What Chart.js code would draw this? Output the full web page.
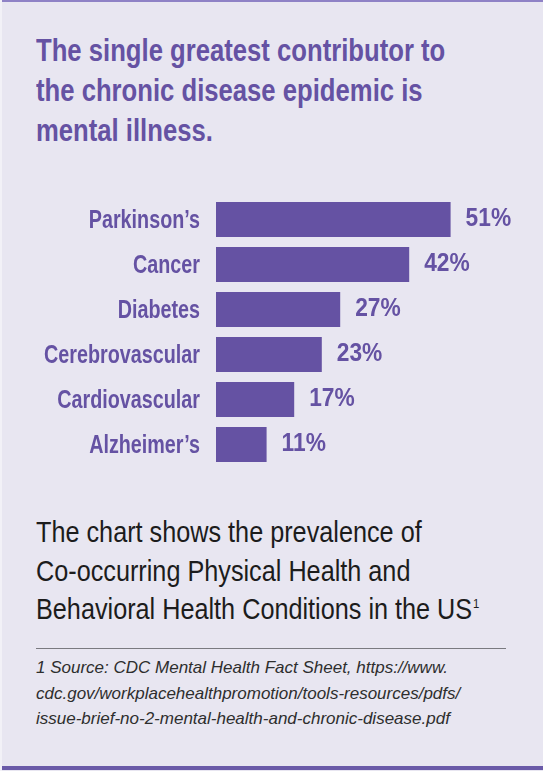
<!DOCTYPE html>
<html>
<head>
<meta charset="utf-8">
<script src="https://cdn.jsdelivr.net/npm/chart.js@4.4.1/dist/chart.umd.min.js"></script>
<style>
  html, body { margin: 0; padding: 0; }
  body { width: 543px; height: 771px; overflow: hidden; background: #e8e6f1; position: relative;
         font-family: "Liberation Sans", Arial, sans-serif; }
  .frame-top { position: absolute; left: 0; top: 0; width: 543px; height: 2px; background: #8f82c6; }
  .frame-left { position: absolute; left: 0; top: 0; width: 2px; height: 771px; background: #f2f1f7; }
  .frame-bottom { position: absolute; left: 2px; top: 766px; width: 541px; height: 4px; background: #6a5aa8; }
  .txt { position: absolute; left: 36px; white-space: nowrap; transform-origin: 0 0; }
  .title { top: 30px; color: #6552a3; font-weight: bold; font-size: 31.7px; line-height: 40px;
           transform: scaleX(0.81); }
  .subtitle { top: 513.4px; color: #1c1c1c; font-size: 29px; line-height: 38.5px; transform: scaleX(0.87); }
  .subtitle sup { font-size: 13px; line-height: 0; vertical-align: baseline; position: relative; top: -11px; margin-left: 1px; }
  .rule { position: absolute; left: 36px; top: 648px; width: 470px; height: 1px; background: #7a7a80; }
  .note { top: 655.4px; color: #2e2e2e; font-style: italic; font-size: 17px; line-height: 25.5px; }
  #c { position: absolute; left: 0; top: 180px; }
</style>
</head>
<body>
<div class="frame-top"></div>
<div class="frame-left"></div>
<div class="frame-bottom"></div>
<div class="txt title">The single greatest contributor to<br>the chronic disease epidemic is<br>mental illness.</div>
<canvas id="c" width="543" height="300" style="width:543px;height:300px"></canvas>
<div class="txt subtitle">The chart shows the prevalence of<br>Co-occurring Physical Health and<br>Behavioral Health Conditions in the US<sup>1</sup></div>
<div class="rule"></div>
<div class="txt note">1 Source: CDC Mental Health Fact Sheet, https://www.<br>cdc.gov/workplacehealthpromotion/tools-resources/pdfs/<br>issue-brief-no-2-mental-health-and-chronic-disease.pdf</div>
<script>
const categories = ["Parkinson\u2019s", "Cancer", "Diabetes", "Cerebrovascular", "Cardiovascular", "Alzheimer\u2019s"];
const values = [51, 42, 27, 23, 17, 11];
const valueLabels = ["51%", "42%", "27%", "23%", "17%", "11%"];

const PURPLE = "#6552a3";
const FONT = '"Liberation Sans", Arial, sans-serif';

// draws condensed category labels (via the y scale) and the value labels (via the bar elements)
const labelPlugin = {
  id: "condensedLabels",
  afterDatasetsDraw(chart) {
    const ctx = chart.ctx;
    const yScale = chart.scales.y;
    const meta = chart.getDatasetMeta(0);
    ctx.save();
    ctx.fillStyle = PURPLE;
    ctx.textBaseline = "alphabetic";
    ctx.font = "bold 25px " + FONT;
    ctx.textAlign = "right";
    categories.forEach((lab, i) => {
      const y = yScale.getPixelForValue(i);
      ctx.save();
      ctx.translate(yScale.right - 16, y + 8);
      ctx.scale(0.79, 1);
      ctx.fillText(lab, 0, 0);
      ctx.restore();
    });
    ctx.textAlign = "left";
    meta.data.forEach((bar, i) => {
      ctx.save();
      ctx.translate(bar.x + 15, bar.y + 6);
      ctx.scale(0.91, 1);
      ctx.fillText(valueLabels[i], 0, 0);
      ctx.restore();
    });
    ctx.restore();
  }
};

new Chart(document.getElementById("c"), {
  type: "bar",
  data: {
    labels: categories,
    datasets: [{
      data: values,
      backgroundColor: PURPLE,
      borderWidth: 0,
      barPercentage: 35 / 45,
      categoryPercentage: 1.0
    }]
  },
  options: {
    indexAxis: "y",
    responsive: false,
    animation: false,
    devicePixelRatio: 1,
    layout: { padding: { left: 0, right: 51, top: 17, bottom: 13 } },
    plugins: { legend: { display: false }, tooltip: { enabled: false } },
    scales: {
      x: { display: false, min: 0, max: 60 },
      y: {
        grid: { display: false, drawTicks: false },
        border: { display: false },
        ticks: { display: false },
        afterFit(scale) { scale.width = 216; }
      }
    }
  },
  plugins: [labelPlugin]
});
</script>
</body>
</html>
